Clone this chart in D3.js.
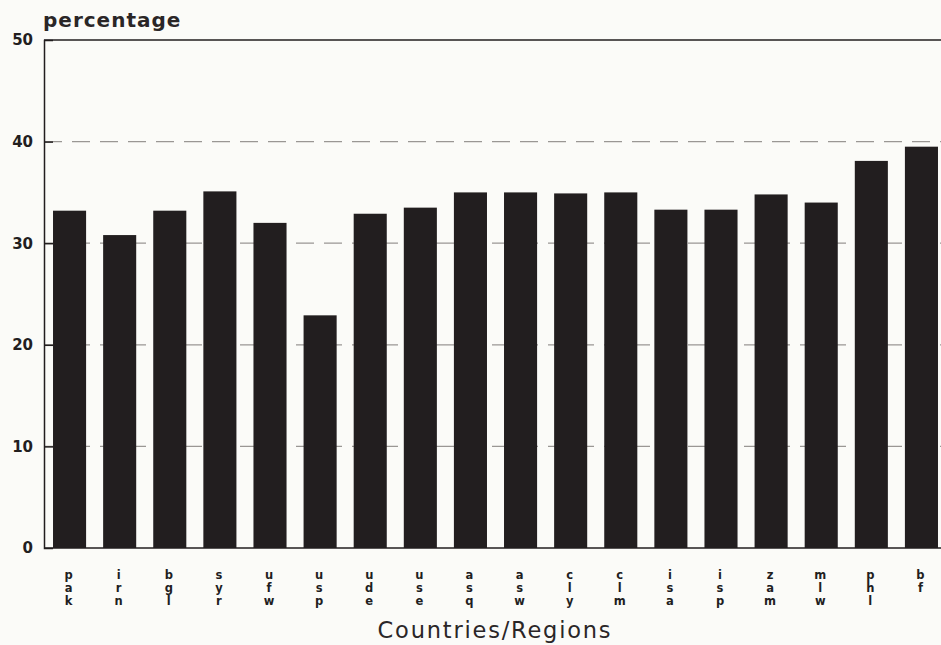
<!DOCTYPE html>
<html>
<head>
<meta charset="utf-8">
<script src="https://cdn.jsdelivr.net/npm/d3@7"></script>
<style>
  html, body { margin: 0; padding: 0; background: #fbfbf8; }
  svg { display: block; }
</style>
</head>
<body>
<svg id="chart" width="941" height="645"></svg>
<script>
// Country / region codes, printed one letter per line under each bar
const categories = ["pak","irn","bgl","syr","ufw","usp","ude","use","asq","asw","cly","clm","isa","isp","zam","mlw","phl","bf"];
// Share of the total, in percent
const values = [33.2, 30.8, 33.2, 35.1, 32.0, 22.9, 32.9, 33.5, 35.0, 35.0, 34.9, 35.0, 33.3, 33.3, 34.8, 34.0, 38.1, 39.5];
const yTicks = [0, 10, 20, 30, 40, 50];
const gridTicks = [10, 20, 30, 40];

const svg = d3.select("#chart");
const plotLeft = 44, plotRight = 947, plotTop = 40, plotBottom = 548;
const font = "'DejaVu Sans', 'Liberation Sans', Arial, sans-serif";

const x = d3.scaleBand()
  .domain(categories)
  .range([plotLeft, plotRight])
  .paddingInner(0.34)
  .paddingOuter(0.18);

const y = d3.scaleLinear().domain([0, 50]).range([plotBottom, plotTop]);

const ink = "#221e1f";

// dashed grid lines behind the bars
svg.append("g")
  .selectAll("line")
  .data(gridTicks)
  .join("line")
  .attr("x1", plotLeft)
  .attr("x2", 941)
  .attr("y1", d => y(d))
  .attr("y2", d => y(d))
  .attr("stroke", "#9a9794")
  .attr("stroke-width", 1.2)
  .attr("stroke-dasharray", "18,10");

// bars
svg.append("g")
  .selectAll("rect")
  .data(values)
  .join("rect")
  .attr("x", (d, i) => x(categories[i]))
  .attr("width", x.bandwidth())
  .attr("y", d => y(d))
  .attr("height", d => y(0) - y(d))
  .attr("fill", ink);

// left axis with short inward ticks
const yAxis = d3.axisLeft(y)
  .tickValues(yTicks)
  .tickSize(-9)
  .tickFormat(d3.format("d"));

const ya = svg.append("g")
  .attr("transform", `translate(${plotLeft},0)`)
  .call(yAxis);
ya.select(".domain").attr("stroke", ink).attr("stroke-width", 1.5);
ya.selectAll(".tick line").attr("stroke", ink).attr("stroke-width", 1.5)
  .filter(d => d === 0 || d === 50).remove();
ya.selectAll(".tick text")
  .attr("font-family", font)
  .attr("font-weight", "bold")
  .attr("font-size", 15)
  .attr("fill", ink)
  .attr("text-anchor", "end")
  .attr("x", -11);

// frame lines: top at 50 and baseline at 0
svg.append("line")
  .attr("x1", plotLeft).attr("x2", 941)
  .attr("y1", y(50)).attr("y2", y(50))
  .attr("stroke", ink).attr("stroke-width", 1.5);
svg.append("line")
  .attr("x1", plotLeft).attr("x2", 941)
  .attr("y1", y(0)).attr("y2", y(0))
  .attr("stroke", ink).attr("stroke-width", 1.5);

// stacked category labels
const lab = svg.append("g")
  .selectAll("text")
  .data(categories)
  .join("text")
  .attr("x", d => x(d) + x.bandwidth() / 2 - 1)
  .attr("y", 579)
  .attr("text-anchor", "middle")
  .attr("font-family", font)
  .attr("font-weight", "bold")
  .attr("font-size", 11.5)
  .attr("fill", ink);
lab.selectAll("tspan")
  .data(d => d.split(""))
  .join("tspan")
  .attr("x", function() { return d3.select(this.parentNode).attr("x"); })
  .attr("dy", (d, i) => i === 0 ? 0 : 13)
  .text(d => d);

// axis titles
svg.append("text")
  .attr("x", 43).attr("y", 27)
  .attr("font-family", font)
  .attr("font-weight", "bold")
  .attr("font-size", 20)
  .attr("letter-spacing", 1)
  .attr("fill", "#2a2627")
  .text("percentage");

svg.append("text")
  .attr("x", 495).attr("y", 638)
  .attr("text-anchor", "middle")
  .attr("font-family", font)
  .attr("font-size", 22.5)
  .attr("letter-spacing", 1.8)
  .attr("fill", "#2a2627")
  .text("Countries/Regions");
</script>
</body>
</html>
